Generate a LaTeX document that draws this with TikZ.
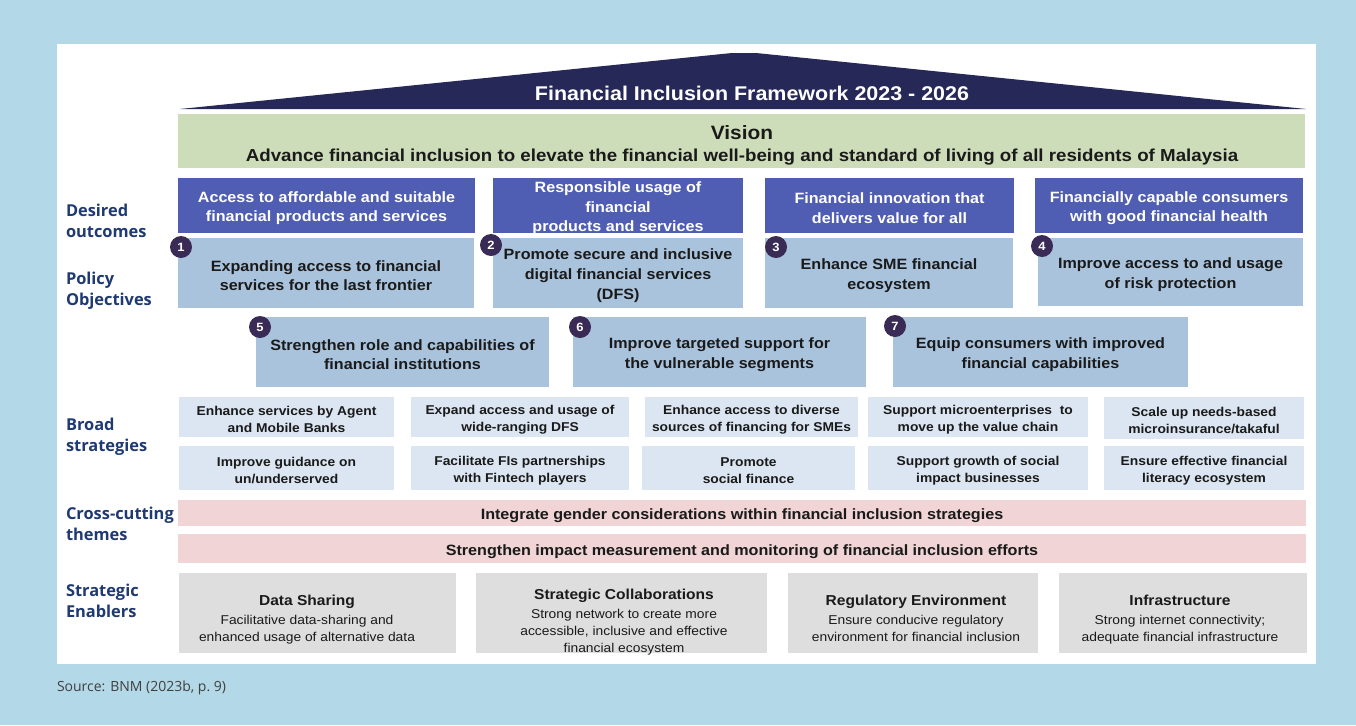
\documentclass[tikz,border=0pt]{standalone}
\usepackage{fontspec}
\setmainfont{Liberation Sans}[FakeStretch=1.08]
\newfontfamily\lblfont{Open Sans}
\definecolor{bgblue}{HTML}{B3D8E7}
\definecolor{roofc}{HTML}{262957}
\definecolor{visionc}{HTML}{CEDDB9}
\definecolor{outcome}{HTML}{4F5DB2}
\definecolor{policy}{HTML}{A9C3DD}
\definecolor{broadc}{HTML}{DCE6F2}
\definecolor{pinkc}{HTML}{F0D4D6}
\definecolor{greyc}{HTML}{DEDEDE}
\definecolor{circc}{HTML}{3A2B56}
\definecolor{lblc}{HTML}{1F3A73}
\definecolor{txt}{HTML}{1A1A1A}
\definecolor{srcc}{HTML}{404040}
\newcommand\rbox[7]{%
  \node[#6, minimum width={(#4-#2)*0.75pt}, minimum height={(#5-#3)*0.75pt}] (#1) at ({(#2+#4)/2},{(#3+#5)/2}) {};
  \node[#6, fill=none, yshift=-2pt] (#1-t) at (#1.center) {#7};}
\newcommand\etitle{\bfseries\fontsize{10.8}{13}\selectfont}
\begin{document}
\begin{tikzpicture}[x=0.75pt,y=-0.75pt,
  every node/.style={inner sep=0pt, outer sep=0pt},
  outc/.style={fill=outcome, text=white, align=center, font=\bfseries\fontsize{11.2}{14.8}\selectfont},
  pol/.style={fill=policy, text=txt, align=center, font=\bfseries\fontsize{11.2}{14.8}\selectfont},
  broad/.style={fill=broadc, text=txt, align=center, font=\bfseries\fontsize{9.6}{12.75}\selectfont},
  cross/.style={fill=pinkc, text=txt, align=center, font=\bfseries\fontsize{11.2}{14}\selectfont},
  enab/.style={fill=greyc},
  enabtext/.style={text=txt, align=center, font=\fontsize{9.6}{12.75}\selectfont},
  lbl/.style={anchor=west, align=left, text=lblc, font=\lblfont\bfseries\fontsize{12.3}{15.75}\selectfont},
  numc/.style={circle, fill=circc, text=white, minimum size=16.5pt, font=\bfseries\fontsize{9}{9}\selectfont},
]
\useasboundingbox (0,0) rectangle (1356,725);
\fill[bgblue] (0,0) rectangle (1356,725);
\fill[white] (57,44) rectangle (1316,664);

% roof
\fill[roofc] (180,109) -- (732,53) -- (756,53) -- (1306,109) -- cycle;
\node[text=white, font=\bfseries\fontsize{14.9}{16}\selectfont] (title) at (752,93) {Financial Inclusion Framework 2023 - 2026};

% vision
\node[fill=visionc, minimum width={1127*0.75pt}, minimum height={54*0.75pt}] (vision) at (741.5,141) {};
\node[text=txt, font=\bfseries\fontsize{14.5}{16}\selectfont] (visT) at (742,133) {Vision};
\node[text=txt, font=\bfseries\fontsize{13}{15}\selectfont] (visS) at (742,157) {Advance financial inclusion to elevate the financial well-being and standard of living of all residents of Malaysia};

% desired outcomes
\rbox{o1}{178}{178}{475}{233}{outc}{Access to affordable and suitable\\financial products and services}
\rbox{o2}{493}{178}{743}{233}{outc}{Responsible usage of\\financial\\products and services}
\rbox{o3}{765}{178}{1014}{233}{outc}{Financial innovation that\\delivers value for all}
\rbox{o4}{1035}{178}{1303}{233}{outc}{Financially capable consumers\\with good financial health}

% policy objectives
\rbox{p1}{178}{238}{474}{308}{pol}{Expanding access to financial\\services for the last frontier}
\rbox{p2}{493}{238}{743}{308}{pol}{Promote secure and inclusive\\digital financial services\\(DFS)}
\rbox{p3}{765}{238}{1013}{308}{pol}{Enhance SME financial\\ecosystem}
\rbox{p4}{1038}{238}{1303}{306}{pol}{Improve access to and usage\\of risk protection}
\rbox{p5}{256}{317}{549}{387}{pol}{Strengthen role and capabilities of\\financial institutions}
\rbox{p6}{573}{317}{866}{387}{pol}{Improve targeted support for\\the vulnerable segments}
\rbox{p7}{893}{317}{1188}{387}{pol}{Equip consumers with improved\\financial capabilities}

\node[numc] (n1) at (181,247) {1};
\node[numc] (n2) at (491,245) {2};
\node[numc] (n3) at (776,247) {3};
\node[numc] (n4) at (1042,246) {4};
\node[numc] (n5) at (260,327) {5};
\node[numc] (n6) at (580,327) {6};
\node[numc] (n7) at (895,326) {7};

% broad strategies
\rbox{b11}{179}{397}{394}{437}{broad}{Enhance services by Agent\\and Mobile Banks}
\rbox{b12}{411}{397}{629}{437}{broad}{Expand access and usage of\\wide-ranging DFS}
\rbox{b13}{645}{397}{858}{437}{broad}{Enhance access to diverse\\sources of financing for SMEs}
\rbox{b14}{868}{397}{1088}{437}{broad}{Support microenterprises\ \ to\\move up the value chain}
\rbox{b15}{1104}{397}{1304}{439}{broad}{Scale up needs-based\\microinsurance/takaful}
\rbox{b21}{179}{446}{394}{490}{broad}{Improve guidance on\\un/underserved}
\rbox{b22}{411}{446}{629}{490}{broad}{Facilitate FIs partnerships\\with Fintech players}
\rbox{b23}{642}{446}{855}{490}{broad}{Promote\\social finance}
\rbox{b24}{868}{446}{1088}{490}{broad}{Support growth of social\\impact businesses}
\rbox{b25}{1104}{446}{1304}{490}{broad}{Ensure effective financial\\literacy ecosystem}

% cross-cutting
\rbox{c1}{178}{500}{1306}{526}{cross}{Integrate gender considerations within financial inclusion strategies}
\rbox{c2}{178}{534}{1306}{563}{cross}{Strengthen impact measurement and monitoring of financial inclusion efforts}

% enablers
\node[enab, minimum width={277*0.75pt}, minimum height={80*0.75pt}] (e1) at (317.5,613) {};
\node[enab, minimum width={291*0.75pt}, minimum height={80*0.75pt}] (e2) at (621.5,613) {};
\node[enab, minimum width={250*0.75pt}, minimum height={80*0.75pt}] (e3) at (913,613) {};
\node[enab, minimum width={248*0.75pt}, minimum height={80*0.75pt}] (e4) at (1183,613) {};
\node[enabtext] (e1t) at (307,620) {{\etitle Data Sharing}\\[1.5pt]Facilitative data-sharing and\\enhanced usage of alternative data};
\node[enabtext] (e2t) at (624,622) {{\etitle Strategic Collaborations}\\[1.5pt]Strong network to create more\\accessible, inclusive and effective\\financial ecosystem};
\node[enabtext] (e3t) at (916,618) {{\etitle Regulatory Environment}\\[1.5pt]Ensure conducive regulatory\\environment for financial inclusion};
\node[enabtext] (e4t) at (1180,620) {{\etitle Infrastructure}\\[1.5pt]Strong internet connectivity;\\adequate financial infrastructure};

% left labels
\node[lbl] (l1) at (66,220.5) {Desired\\outcomes};
\node[lbl] (l2) at (66,290.5) {Policy\\Objectives};
\node[lbl] (l3) at (66,436.5) {Broad\\strategies};
\node[lbl] (l4) at (66,523.5) {Cross-cutting\\themes};
\node[lbl] (l5) at (66,600.5) {Strategic\\Enablers};

% source
\node[anchor=west, text=srcc, font=\lblfont\fontsize{10.5}{12}\selectfont] (src) at (57,688) {Source: BNM (2023b, p.\ 9)};
\end{tikzpicture}
\end{document}
